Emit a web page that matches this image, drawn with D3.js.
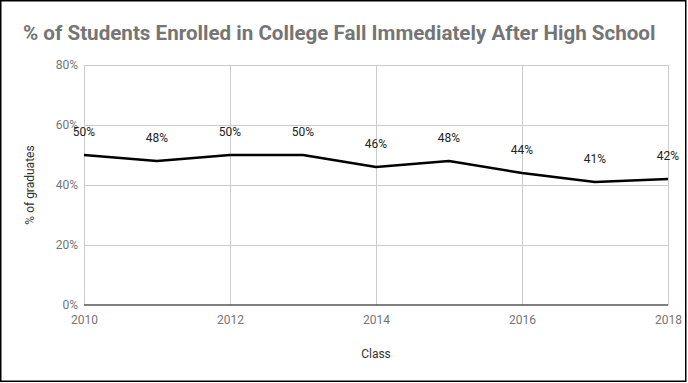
<!DOCTYPE html>
<html><head><meta charset="utf-8">
<script src="https://cdn.jsdelivr.net/npm/d3@7"></script>
<style>body{margin:0;background:#fff}svg{display:block}</style>
</head><body><svg id="c" width="688" height="383"></svg>
<script>
const years = [2010, 2011, 2012, 2013, 2014, 2015, 2016, 2017, 2018];
const values = [50, 48, 50, 50, 46, 48, 44, 41, 42];
const yTicks = [0, 20, 40, 60, 80];
const xTicks = [2010, 2012, 2014, 2016, 2018];
const title = "% of Students Enrolled in College Fall Immediately After High School";

const svg = d3.select("#c");
const W = 688, H = 383;
svg.append("rect").attr("x",0).attr("y",0).attr("width",W).attr("height",H).attr("fill","#fff");
svg.append("rect").attr("x",0.75).attr("y",0.75).attr("width",685).attr("height",380.5)
  .attr("fill","none").attr("stroke","#000").attr("stroke-width",1.5);

const x = d3.scaleLinear().domain([2010,2018]).range([84,668]);
const y = d3.scaleLinear().domain([0,80]).range([305,65]);
const font = "Roboto, 'Noto Sans', sans-serif";

svg.append("text").attr("x",23).attr("y",40).text(title)
  .attr("font-family",font).attr("font-size",20.6).attr("font-weight","bold").attr("fill","#757575");

// horizontal grid
svg.append("g").selectAll("line").data(yTicks.filter(d=>d>0)).join("line")
  .attr("x1",x(2010)).attr("x2",x(2018)).attr("y1",d=>Math.round(y(d))+0.5).attr("y2",d=>Math.round(y(d))+0.5)
  .attr("stroke","#cccccc").attr("stroke-width",1);
// vertical grid
svg.append("g").selectAll("line").data(xTicks).join("line")
  .attr("x1",d=>Math.round(x(d))+0.5).attr("x2",d=>Math.round(x(d))+0.5).attr("y1",y(80)).attr("y2",y(0))
  .attr("stroke","#cccccc").attr("stroke-width",1);

// y axis labels
const yAxis = d3.axisLeft(y).tickValues(yTicks).tickFormat(d=>d+"%").tickSize(0).tickPadding(6);
const gy = svg.append("g").attr("transform",`translate(${x(2010)},0)`).call(yAxis);
gy.select(".domain").remove();
gy.selectAll("text").attr("font-family",font).attr("font-size",12).attr("fill","#757575");

// x axis labels
const xAxis = d3.axisBottom(x).tickValues(xTicks).tickFormat(d3.format("d")).tickSize(0).tickPadding(10);
const gx = svg.append("g").attr("transform",`translate(0,${y(0)})`).call(xAxis);
gx.select(".domain").remove();
gx.selectAll("text").attr("font-family",font).attr("font-size",12).attr("fill","#757575");

// baseline
svg.append("line").attr("x1",x(2010)).attr("x2",x(2018)).attr("y1",y(0)).attr("y2",y(0))
  .attr("stroke","#555").attr("stroke-width",1.5);

// axis titles
svg.append("text").attr("x",376).attr("y",358).attr("text-anchor","middle").text("Class")
  .attr("font-family",font).attr("font-size",12).attr("fill","#333");
svg.append("text").attr("transform",`translate(34,${y(40)}) rotate(-90)`).attr("text-anchor","middle")
  .text("% of graduates").attr("font-family",font).attr("font-size",12).attr("fill","#333");

// line
const data = years.map((yr,i)=>({yr, v: values[i]}));
svg.append("path").datum(data).attr("d", d3.line().x(d=>x(d.yr)).y(d=>y(d.v)))
  .attr("fill","none").attr("stroke","#000").attr("stroke-width",2.5).attr("stroke-linejoin","round");

// labels
svg.append("g").selectAll("text").data(data).join("text")
  .attr("x",d=>x(d.yr)).attr("y",d=>y(d.v)-19).attr("text-anchor","middle")
  .text(d=>d.v+"%").attr("font-family",font).attr("font-size",12).attr("fill","#222");
</script></body></html>
